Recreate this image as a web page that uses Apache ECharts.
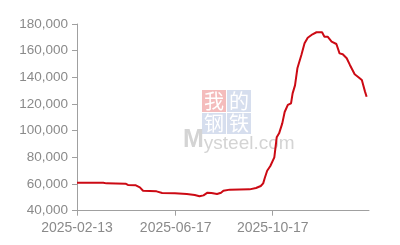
<!DOCTYPE html>
<html><head><meta charset="utf-8">
<script src="https://cdn.jsdelivr.net/npm/echarts@6/dist/echarts.min.js"></script>
<style>html,body{margin:0;padding:0;background:#fff}#c{width:400px;height:245px}</style>
</head><body><div id="c"></div>
<script>
const dates = ["2025-02-13","2025-03-18","2025-03-22","2025-04-15","2025-04-18","2025-04-28","2025-05-03","2025-05-07","2025-05-24","2025-05-31","2025-06-16","2025-07-01","2025-07-11","2025-07-17","2025-07-22","2025-07-27","2025-08-01","2025-08-08","2025-08-13","2025-08-16","2025-08-24","2025-09-18","2025-09-26","2025-10-02","2025-10-05","2025-10-07","2025-10-10","2025-10-14","2025-10-16","2025-10-19","2025-10-22","2025-10-25","2025-10-29","2025-11-01","2025-11-05","2025-11-09","2025-11-11","2025-11-14","2025-11-17","2025-11-22","2025-11-26","2025-11-30","2025-12-06","2025-12-11","2025-12-18","2025-12-21","2025-12-25","2025-12-30","2026-01-05","2026-01-09","2026-01-13","2026-01-18","2026-01-22","2026-01-28","2026-02-01","2026-02-06","2026-02-10","2026-02-12"];
const values = [61000,61000,60500,60300,59300,59000,57500,55000,54500,53300,53000,52500,51800,50800,51500,53500,53300,52500,53500,55000,55800,56000,57000,58500,60500,64500,70000,73500,74000,80000,95000,98000,105500,114000,119300,120500,128000,134000,146800,156800,165500,169700,172300,173800,173800,170500,170500,166800,165000,158000,157300,154300,149300,142300,140500,138000,129300,125500];
const xTickLabels = ["2025-02-13","2025-06-17","2025-10-17"];
const xMin = "2025-02-13", xMax = "2026-02-15";
const yMin = 40000, yMax = 180000, yStep = 20000;

const chart = echarts.init(document.getElementById('c'), null, {renderer:'canvas'});
const ts = s => { const p = s.split('-').map(Number); return Date.UTC(p[0], p[1]-1, p[2]); };
const fmt = v => { const d = new Date(v); const m = d.getUTCMonth()+1, dd = d.getUTCDate(); return d.getUTCFullYear()+'-'+(m<10?'0':'')+m+'-'+(dd<10?'0':'')+dd; };
const axisColor = '#a0a0a0', labelColor = '#8a8a8a';
const xt = xTickLabels.map(ts);
chart.setOption({
  animation:false,
  grid:{left:77,right:31,top:24,bottom:34.3,containLabel:false},
  xAxis:{type:'value',min:ts(xMin),max:ts(xMax),
    axisLine:{lineStyle:{color:axisColor,width:1}},
    axisTick:{show:true,length:5,lineStyle:{color:axisColor},customValues:xt},
    axisLabel:{color:labelColor,fontSize:14,fontFamily:'Liberation Sans, Arial',margin:10,customValues:xt,formatter:fmt,hideOverlap:false},
    splitLine:{show:false}},
  yAxis:{type:'value',min:yMin,max:yMax,interval:yStep,
    axisLine:{show:true,lineStyle:{color:axisColor,width:1}},
    axisTick:{show:true,length:5,lineStyle:{color:axisColor}},
    axisLabel:{color:labelColor,fontSize:13.5,fontFamily:'Liberation Sans, Arial',margin:9,
      formatter:v=>v.toLocaleString('en-US')},
    splitLine:{show:false}},
  graphic:[
    {type:'rect',left:202,top:90,shape:{width:24,height:22},style:{fill:'#f4bcbc'},z:0},
    {type:'rect',left:227,top:90,shape:{width:24,height:22},style:{fill:'#d6deee'},z:0},
    {type:'rect',left:202,top:113,shape:{width:24,height:21},style:{fill:'#d6deee'},z:0},
    {type:'rect',left:227,top:113,shape:{width:24,height:21},style:{fill:'#d6deee'},z:0},
    {type:'text',left:204,top:91,style:{text:'我',fill:'#fff',font:'20px "Noto Sans CJK SC"'},z:1},
    {type:'text',left:229,top:91,style:{text:'的',fill:'#fff',font:'20px "Noto Sans CJK SC"'},z:1},
    {type:'text',left:204,top:113,style:{text:'钢',fill:'#fff',font:'20px "Noto Sans CJK SC"'},z:1},
    {type:'text',left:229,top:113,style:{text:'铁',fill:'#fff',font:'20px "Noto Sans CJK SC"'},z:1},
    {type:'text',left:183,top:128,style:{text:'{a|M}{b|ysteel.com}',fill:'#d4d4d4',
      rich:{a:{fontSize:25,fontWeight:'bold',fontFamily:'Liberation Sans',fill:'#d4d4d4',verticalAlign:'bottom'},
            b:{fontSize:19,fontWeight:'normal',fontFamily:'Liberation Sans',fill:'#d4d4d4',verticalAlign:'bottom'}}},z:1}
  ],
  series:[{type:'line',data:dates.map((d,i)=>[ts(d),values[i]]),showSymbol:false,
    lineStyle:{color:'#cc0a14',width:2},itemStyle:{color:'#cc0a14'},z:5}]
});
</script></body></html>
